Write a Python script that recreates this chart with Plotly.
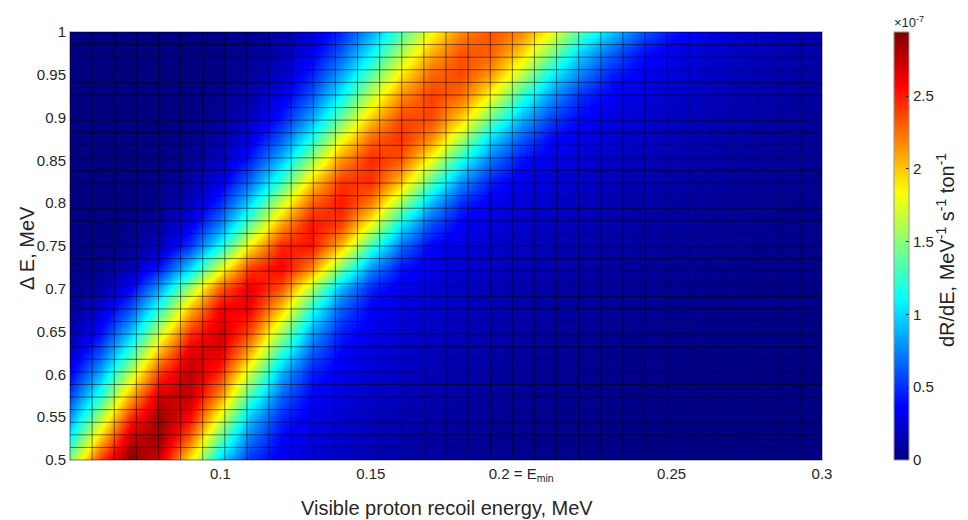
import numpy as np
import plotly.graph_objects as go

# ---- data (values in units of 1e-7 MeV^-1 s^-1 ton^-1) ----
x_vals = [0.05, 0.06, 0.07, 0.08, 0.09, 0.10, 0.11, 0.12, 0.13, 0.14, 0.15, 0.16, 0.17,
          0.18, 0.19, 0.20, 0.21, 0.22, 0.23, 0.24, 0.25, 0.26, 0.27, 0.28, 0.29, 0.30]
y_vals = [0.500, 0.525, 0.550, 0.575, 0.600, 0.625, 0.650, 0.675, 0.700, 0.725, 0.750,
          0.775, 0.800, 0.825, 0.850, 0.875, 0.900, 0.925, 0.950, 0.975, 1.000]

r0500 = [1.50, 2.41, 2.94, 2.69, 1.88, 0.99, 0.50, 0.32, 0.233, 0.18, 0.139, 0.107, 0.082, 0.064, 0.049, 0.038, 0.029, 0.022, 0.017, 0.013, 0.010, 0.008, 0.006, 0.005, 0.004, 0.003]
r0525 = [1.12, 2.00, 2.74, 2.85, 2.27, 1.37, 0.70, 0.37, 0.268, 0.208, 0.162, 0.126, 0.099, 0.077, 0.060, 0.047, 0.036, 0.028, 0.022, 0.017, 0.013, 0.010, 0.008, 0.006, 0.005, 0.004]
r0550 = [0.80, 1.59, 2.44, 2.86, 2.57, 1.77, 0.94, 0.48, 0.31, 0.237, 0.186, 0.146, 0.114, 0.089, 0.070, 0.055, 0.043, 0.034, 0.026, 0.021, 0.016, 0.013, 0.010, 0.008, 0.006, 0.005]
r0575 = [0.55, 1.21, 2.06, 2.71, 2.75, 2.15, 1.29, 0.66, 0.36, 0.269, 0.213, 0.168, 0.133, 0.105, 0.083, 0.066, 0.052, 0.041, 0.032, 0.026, 0.020, 0.016, 0.013, 0.010, 0.008, 0.006]
r0600 = [0.35, 0.87, 1.66, 2.44, 2.78, 2.44, 1.66, 0.87, 0.45, 0.31, 0.243, 0.194, 0.154, 0.123, 0.098, 0.078, 0.062, 0.049, 0.039, 0.031, 0.025, 0.020, 0.016, 0.013, 0.010, 0.008]
r0625 = [0.21, 0.59, 1.25, 2.08, 2.67, 2.65, 2.05, 1.22, 0.64, 0.36, 0.271, 0.217, 0.174, 0.140, 0.112, 0.090, 0.072, 0.058, 0.047, 0.037, 0.030, 0.024, 0.019, 0.016, 0.012, 0.010]
r0650 = [0.12, 0.38, 0.91, 1.68, 2.42, 2.71, 2.36, 1.59, 0.86, 0.45, 0.31, 0.243, 0.196, 0.159, 0.128, 0.104, 0.084, 0.068, 0.055, 0.044, 0.036, 0.029, 0.023, 0.019, 0.015, 0.012]
r0675 = [0.06, 0.23, 0.60, 1.26, 2.06, 2.61, 2.58, 1.98, 1.19, 0.62, 0.35, 0.268, 0.218, 0.177, 0.144, 0.117, 0.095, 0.078, 0.063, 0.051, 0.042, 0.034, 0.028, 0.023, 0.018, 0.015]
r0700 = [0.03, 0.12, 0.36, 0.86, 1.60, 2.33, 2.64, 2.33, 1.60, 0.88, 0.45, 0.31, 0.241, 0.197, 0.162, 0.132, 0.108, 0.089, 0.073, 0.059, 0.049, 0.040, 0.033, 0.027, 0.022, 0.018]
r0725 = [0.008, 0.04, 0.14, 0.42, 0.96, 1.71, 2.39, 2.60, 2.22, 1.47, 0.80, 0.42, 0.30, 0.236, 0.195, 0.161, 0.133, 0.109, 0.090, 0.074, 0.061, 0.051, 0.042, 0.034, 0.028, 0.023]
r0750 = [0.002, 0.012, 0.055, 0.19, 0.53, 1.13, 1.89, 2.47, 2.53, 2.03, 1.27, 0.68, 0.36, 0.28, 0.226, 0.188, 0.156, 0.130, 0.108, 0.090, 0.075, 0.062, 0.051, 0.043, 0.036, 0.030]
r0775 = [0.0, 0.006, 0.027, 0.10, 0.31, 0.74, 1.41, 2.12, 2.53, 2.39, 1.78, 1.06, 0.58, 0.34, 0.263, 0.218, 0.181, 0.150, 0.125, 0.103, 0.086, 0.071, 0.059, 0.049, 0.041, 0.034]
r0800 = [0.0, 0.003, 0.013, 0.054, 0.18, 0.47, 1.00, 1.69, 2.30, 2.52, 2.21, 1.55, 0.90, 0.48, 0.32, 0.253, 0.210, 0.174, 0.144, 0.119, 0.099, 0.082, 0.068, 0.056, 0.046, 0.038]
r0825 = [0.0, 0.0, 0.007, 0.03, 0.10, 0.29, 0.68, 1.27, 1.95, 2.42, 2.44, 2.01, 1.34, 0.78, 0.44, 0.31, 0.249, 0.206, 0.170, 0.140, 0.116, 0.096, 0.079, 0.066, 0.054, 0.045]
r0850 = [0.0, 0.0, 0.0, 0.016, 0.06, 0.18, 0.45, 0.91, 1.54, 2.15, 2.46, 2.32, 1.80, 1.16, 0.70, 0.41, 0.30, 0.243, 0.201, 0.166, 0.137, 0.113, 0.093, 0.077, 0.063, 0.052]
r0875 = [0.0, 0.0, 0.0, 0.009, 0.034, 0.11, 0.29, 0.63, 1.16, 1.79, 2.29, 2.44, 2.17, 1.60, 0.99, 0.62, 0.38, 0.288, 0.237, 0.195, 0.161, 0.132, 0.109, 0.090, 0.074, 0.061]
r0900 = [0.0, 0.0, 0.0, 0.0, 0.019, 0.063, 0.18, 0.42, 0.84, 1.41, 1.99, 2.37, 2.37, 1.99, 1.41, 0.90, 0.55, 0.37, 0.279, 0.230, 0.189, 0.155, 0.128, 0.105, 0.086, 0.071]
r0925 = [0.0, 0.0, 0.0, 0.0, 0.012, 0.041, 0.12, 0.29, 0.61, 1.10, 1.67, 2.17, 2.40, 2.26, 1.81, 1.24, 0.80, 0.48, 0.35, 0.269, 0.221, 0.181, 0.149, 0.122, 0.100, 0.082]
r0950 = [0.0, 0.0, 0.0, 0.0, 0.008, 0.028, 0.082, 0.21, 0.45, 0.84, 1.36, 1.90, 2.28, 2.37, 2.12, 1.64, 1.09, 0.73, 0.45, 0.33, 0.258, 0.211, 0.173, 0.142, 0.116, 0.095]
r0975 = [0.0, 0.0, 0.0, 0.0, 0.006, 0.019, 0.056, 0.14, 0.32, 0.63, 1.08, 1.60, 2.07, 2.34, 2.30, 1.97, 1.47, 0.96, 0.65, 0.41, 0.31, 0.244, 0.200, 0.164, 0.134, 0.110]
r1000 = [0.0, 0.0, 0.0, 0.0, 0.003, 0.014, 0.04, 0.10, 0.24, 0.47, 0.84, 1.32, 1.81, 2.19, 2.34, 2.19, 1.81, 1.32, 0.95, 0.62, 0.42, 0.30, 0.235, 0.19, 0.156, 0.127]

z_rows = [r0500, r0525, r0550, r0575, r0600, r0625, r0650, r0675, r0700, r0725, r0750,
          r0775, r0800, r0825, r0850, r0875, r0900, r0925, r0950, r0975, r1000]

x_tick_vals = [0.1, 0.15, 0.2, 0.25, 0.3]
x_tick_text = ["0.1", "0.15", "0.2 = E<sub>min</sub>", "0.25", "0.3"]
y_tick_vals = [0.5, 0.55, 0.6, 0.65, 0.7, 0.75, 0.8, 0.85, 0.9, 0.95, 1.0]
y_tick_text = ["0.5", "0.55", "0.6", "0.65", "0.7", "0.75", "0.8", "0.85", "0.9", "0.95", "1"]
cb_tick_vals = [0, 0.5, 1, 1.5, 2, 2.5]
cb_tick_text = ["0", "0.5", "1", "1.5", "2", "2.5"]

# mesh of the original surface (35 x 35 grid)
mesh_x = np.linspace(0.05, 0.3, 35)
mesh_y = np.linspace(0.5, 1.0, 35)

jet = [[0.0, "rgb(0,0,128)"], [0.125, "rgb(0,0,255)"], [0.375, "rgb(0,255,255)"],
       [0.625, "rgb(255,255,0)"], [0.875, "rgb(255,0,0)"], [1.0, "rgb(128,0,0)"]]

TXT = "rgb(38,38,38)"
FONT = "Liberation Sans, Arial, sans-serif"

zmax = float(np.max(np.array(z_rows)))

fig = go.Figure()
fig.add_trace(go.Heatmap(
    x=x_vals, y=y_vals, z=z_rows, zsmooth="best", colorscale=jet,
    zmin=0, zmax=zmax,
    colorbar=dict(x=(894 - 70) / 752, xanchor="left", xpad=0, y=0.5, yanchor="middle",
                  len=1, lenmode="fraction", thickness=15, ypad=0,
                  tickvals=cb_tick_vals, ticktext=cb_tick_text, ticks="inside", ticklen=3,
                  tickcolor=TXT, outlinewidth=1, outlinecolor="rgb(150,150,150)",
                  tickfont=dict(family=FONT, size=15, color=TXT)),
    hoverinfo="skip"))

lx, ly = [], []
for xv in mesh_x:
    lx += [xv, xv, None]
    ly += [0.5, 1.0, None]
for yv in mesh_y:
    lx += [0.05, 0.3, None]
    ly += [yv, yv, None]
fig.add_trace(go.Scatter(x=lx, y=ly, mode="lines", line=dict(color="rgba(0,0,0,0.65)", width=0.8),
                         hoverinfo="skip", showlegend=False))

fig.update_layout(
    width=968, height=520, margin=dict(l=70, r=146, t=32, b=60),
    paper_bgcolor="white", plot_bgcolor="white", showlegend=False,
    font=dict(family=FONT, size=15, color=TXT),
    xaxis=dict(range=[0.05, 0.3], tickvals=x_tick_vals, ticktext=x_tick_text, showgrid=False,
               zeroline=False, showline=True, mirror=True, linecolor="rgb(190,190,190)", linewidth=1,
               ticks="", tickfont=dict(family=FONT, size=15, color=TXT)),
    yaxis=dict(range=[0.5, 1.0], tickvals=y_tick_vals, ticktext=y_tick_text, showgrid=False,
               zeroline=False, showline=True, mirror=True, linecolor="rgb(190,190,190)", linewidth=1,
               ticks="", tickfont=dict(family=FONT, size=15, color=TXT)),
    annotations=[
        dict(text="Visible proton recoil energy, MeV", xref="paper", yref="paper", x=(447 - 70) / 752,
             y=-48 / 428, xanchor="center", yanchor="middle", showarrow=False,
             font=dict(family=FONT, size=20, color=TXT)),
        dict(text="\u0394 E, MeV", xref="paper", yref="paper", x=-43 / 752, y=(460 - 248) / 428, textangle=-90,
             xanchor="center", yanchor="middle", showarrow=False, font=dict(family=FONT, size=20, color=TXT)),
        dict(text="dR/dE, MeV<sup>-1</sup> s<sup>-1</sup> ton<sup>-1</sup>", xref="paper", yref="paper",
             x=(945 - 70) / 752, y=(460 - 250) / 428, textangle=-90, xanchor="center", yanchor="middle",
             showarrow=False, font=dict(family=FONT, size=20, color=TXT)),
        dict(text="\u00d710<sup>-7</sup>", xref="paper", yref="paper", x=(892 - 70) / 752, y=1.0,
             xanchor="left", yanchor="bottom", showarrow=False, font=dict(family=FONT, size=13, color=TXT)),
    ],
)

fig.write_html("out.html")
